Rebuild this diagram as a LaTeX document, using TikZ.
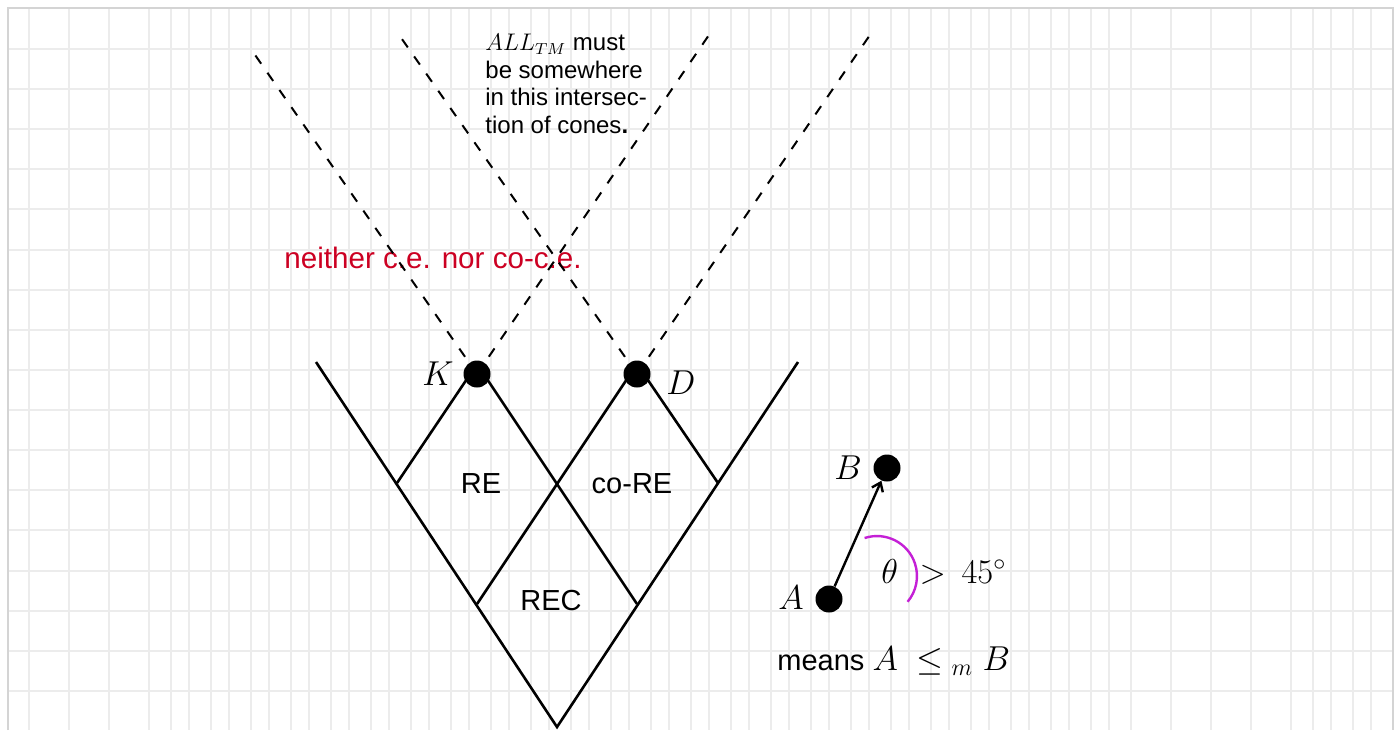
\documentclass[tikz,border=0pt]{standalone}
\usepackage{fontspec}
\newfontfamily\labelfont{Liberation Sans}
\usetikzlibrary{positioning,arrows.meta}
\definecolor{gridgray}{RGB}{236,236,236}
\definecolor{framegray}{RGB}{212,212,212}
\definecolor{undecred}{RGB}{204,0,34}
\definecolor{anglemag}{RGB}{196,32,214}
\newcommand{\mathsz}{\fontsize{16.5}{20}\selectfont}

\begin{document}
\begin{tikzpicture}[x=0.5pt, y=-0.5pt, >={Straight Barb[length=4pt,width=6pt]},
  every node/.style={font=\labelfont\fontsize{14.5}{17}\selectfont},
  dot/.style={circle, fill=black, inner sep=0pt, minimum size=13.5pt},
  cone/.style={line width=1.3pt},
  opencone/.style={line width=1pt, dash pattern=on 5pt off 5.5pt},
  gridline/.style={draw=gridgray, line width=1pt}]
\useasboundingbox (0,0) rectangle (1400,730);
\foreach \x in {29,69,...,1109} \draw[gridline] (\x,8) -- (\x,730);
\foreach \x in {171,211,...,1371,1313,1353} \draw[gridline] (\x,8) -- (\x,730);
\foreach \i in {0,...,16} \draw[gridline] ({8},{49+40.12*\i}) -- ({1393},{49+40.12*\i});
\draw[framegray, line width=1pt] (8,730) -- (8,8) -- (1393,8) -- (1393,730);

\node[undecred, anchor=base west, inner sep=0pt, font=\labelfont\fontsize{14.8}{17}\selectfont] (neither) at (284,268) {neither c.e. nor co-c.e.};
\node[align=left, anchor=north west, inner sep=0pt, font=\labelfont\fontsize{12}{13.75}\selectfont] (note) at (485,34) {$ALL_{TM}$ must\\be somewhere\\in this intersec-\\tion of cones\textbf{.}};

\coordinate (Kc) at (477,374);
\coordinate (Dc) at (637,374);
\coordinate (Ktip) at (477,364);
\coordinate (Dtip) at (637,364);
\coordinate (lefttop) at (316,362);
\coordinate (righttop) at (798,362);
\coordinate (bottom) at (557,727);
\coordinate (lmid) at (397,483);
\coordinate (rmid) at (718,483);
\coordinate (lbot) at (477,604);
\coordinate (rbot) at (637,604);
\coordinate (Kfar) at (253,52);
\coordinate (Knear) at (711,32);
\coordinate (Dnear) at (397,32);
\coordinate (Dfar) at (872,32);

\draw[cone] (lefttop) -- (bottom) -- (righttop);
\draw[cone] (lmid) -- (Ktip) -- (rbot);
\draw[cone] (lbot) -- (Dtip) -- (rmid);
\draw[opencone] (Kc) -- (Kfar);
\draw[opencone] (Kc) -- (Knear);
\draw[opencone] (Dc) -- (Dnear);
\draw[opencone] (Dc) -- (Dfar);

\node[dot] (K) at (Kc) {};
\node[dot] (D) at (Dc) {};
\node[font=\mathsz, inner sep=0pt] (Klabel) at (438,374) {$K$};
\node[font=\mathsz, inner sep=0pt] (Dlabel) at (681,383) {$D$};

\node (re) at (481,484) {RE};
\node (core) at (632,484) {co-RE};
\node (rec) at (551,600) {REC};

\node[dot] (A) at (829,599) {};
\node[dot] (B) at (887,468) {};
\node[font=\mathsz, inner sep=0pt] (Alabel) at (791,598) {$A$};
\node[font=\mathsz, inner sep=0pt] (Blabel) at (848,468) {$B$};
\draw[->, line width=1.2pt] (A) -- (B);
\draw[anglemag, line width=1.2pt] (864.6,538) arc[start angle=-108, end angle=40, radius=40];
\node[font=\mathsz, anchor=base west, inner sep=0pt] (theta) at (881,583) {$\theta\hspace{6pt}>\hspace{3pt}45^{\circ}$};
\node[anchor=base west, inner sep=0pt] (means) at (777,670) {means {\mathsz$A\ \leq_{\hspace{4pt}m} B$}};
\end{tikzpicture}
\end{document}
